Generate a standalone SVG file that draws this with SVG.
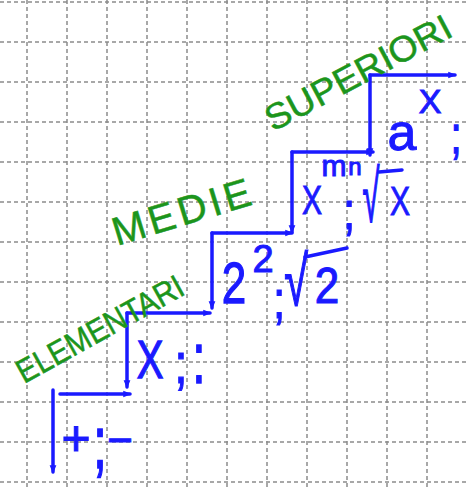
<svg xmlns="http://www.w3.org/2000/svg" width="466" height="489" viewBox="0 0 466 489">
<style>
.grid{stroke:#8c8c8c;stroke-width:1.5;stroke-dasharray:4 3;fill:none}
.m{font-family:"Liberation Sans",Arial,sans-serif;fill:#1a1aff;stroke:#1a1aff;stroke-width:1;text-anchor:middle}
.g{font-family:"Liberation Sans",Arial,sans-serif;fill:#1c951c;stroke:#1c951c;stroke-width:0.5}
.c line{stroke:#1a1aff;stroke-width:3.5;stroke-linecap:round;marker-end:url(#ah)}
.bar{stroke:#1a1aff;stroke-width:3.5;stroke-linecap:round;fill:none}
</style>
<defs>
<marker id="ah" viewBox="0 0 10 10" refX="8" refY="5" markerWidth="2.4" markerHeight="2.4" orient="auto" markerUnits="strokeWidth">
<path d="M0,1 L10,5 L0,9 z" fill="#1a1aff"/>
</marker>
</defs>
<rect width="466" height="489" fill="#ffffff"/>
<path class="grid" d="M27,0V489M67,0V489M107,0V489M147,0V489M187,0V489M227,0V489M267,0V489M307,0V489M347,0V489M387,0V489M427,0V489M0,2H466M0,42H466M0,82H466M0,122H466M0,162H466M0,202H466M0,242H466M0,282H466M0,322H466M0,362H466M0,402H466M0,442H466M0,482H466"/>
<g id="connectors" class="c">
<line x1="53" y1="390" x2="53" y2="472"/>
<line x1="60" y1="394" x2="130" y2="394"/>
<line x1="127" y1="313" x2="127" y2="387"/>
<line x1="127" y1="313" x2="210" y2="313"/>
<line x1="212" y1="233" x2="212" y2="308"/>
<line x1="212" y1="233" x2="292" y2="233"/>
<line x1="292" y1="152" x2="292" y2="232"/>
<line x1="292" y1="152" x2="373" y2="152"/>
<line x1="370" y1="75" x2="370" y2="155"/>
<line x1="370" y1="75" x2="455" y2="75"/>
</g>
<g id="label-elementari">
<text class="g" transform="translate(24,384) rotate(-29)" font-size="33" textLength="186" lengthAdjust="spacingAndGlyphs">ELEMENTARI</text>
</g>
<g id="label-medie">
<text class="g" transform="translate(117,246) rotate(-17)" font-size="40" textLength="143" lengthAdjust="spacing">MEDIE</text>
</g>
<g id="label-superiori">
<text class="g" transform="translate(273,132) rotate(-28)" font-size="36" textLength="206" lengthAdjust="spacingAndGlyphs">SUPERIORI</text>
</g>
<g id="step-add-sub">
<text class="m" x="76" y="455" font-size="50">+</text>
<text class="m" transform="translate(100,468) scale(1,1.5)" font-size="50">;</text>
<text class="m" x="120" y="455" font-size="44">−</text>
</g>
<g id="step-mul-div">
<text class="m" transform="translate(150,378) scale(1,1.33)" font-size="40">X</text>
<text class="m" transform="translate(181,383) scale(1,1.2)" font-size="48">;</text>
<text class="m" transform="translate(199,383) scale(1,1.5)" font-size="48">:</text>
</g>
<g id="step-pow-root">
<text class="m" transform="translate(234,303) scale(1,1.3)" font-size="44">2</text>
<text class="m" x="263" y="272" font-size="38">2</text>
<text class="m" transform="translate(279,318) scale(1,1.2)" font-size="44">;</text>
<text class="m" transform="translate(296,305) scale(0.9,1.45)" font-size="48">√</text>
<path class="bar" d="M305,257 L347,248"/>
<text class="m" transform="translate(327,303) scale(1,1.15)" font-size="44">2</text>
</g>
<g id="step-pow-n">
<text class="m" transform="translate(312,214) scale(0.75,1)" font-size="40">X</text>
<text class="m" x="334" y="176" font-size="30">m</text>
<text class="m" transform="translate(349,229) scale(1,1.2)" font-size="44">;</text>
<text class="m" x="355" y="175" font-size="24">n</text>
<text class="m" transform="translate(371,222) scale(0.7,1.65)" font-size="44">√</text>
<path class="bar" d="M379,172 L402,170"/>
<text class="m" transform="translate(400,215) scale(0.75,1)" font-size="40">X</text>
</g>
<g id="step-exp">
<text class="m" x="402" y="150" font-size="52">a</text>
<text class="m" x="430" y="113" font-size="34">X</text>
<text class="m" transform="translate(456,153) scale(1,1.3)" font-size="40">;</text>
</g>
</svg>
